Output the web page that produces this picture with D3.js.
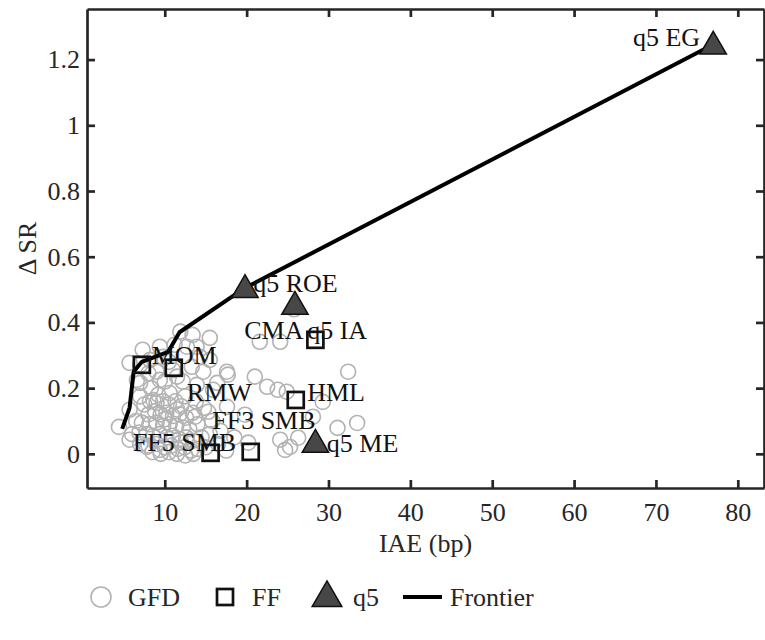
<!DOCTYPE html>
<html>
<head>
<meta charset="utf-8">
<script src="https://cdn.jsdelivr.net/npm/d3@7"></script>
<style>
  body { margin: 0; background: #fff; }
</style>
</head>
<body>
<div id="chart"></div>
<script>
// GFD anomalies: [IAE (bp), delta SR]
const gfdPoints = [
  [11.9,0.372],[13.4,0.362],[15.5,0.353],[11.2,0.332],[12.7,0.326],[13.9,0.326],
  [9.8,0.295],[8.2,0.286],[7.0,0.271],[14.3,0.295],[15.5,0.286],[13.3,0.265],
  [14.7,0.250],[17.6,0.250],[9.4,0.225],[11.5,0.235],[7.0,0.216],[13.9,0.210],
  [16.4,0.216],[21.6,0.341],[24.1,0.341],[25.8,0.440],[32.4,0.250],[21.0,0.235],
  [22.5,0.204],[23.8,0.195],[29.3,0.158],[28.1,0.113],[33.5,0.094],[19.8,0.119],
  [20.2,0.034],[26.3,0.049],[24.7,0.012],[31.1,0.079],[25.3,0.021],[24.1,0.043],
  [24.9,0.189],[17.7,0.241],[15.9,0.195],[15.3,0.128],[17.6,0.143],[13.7,0.113],
  [7.3,0.317],[9.4,0.326],[5.7,0.277],[6.6,0.225],[8.6,0.164],[5.7,0.134],
  [4.4,0.082],[5.7,0.043],[7.8,0.021],[9.4,0.012],
  [7.5,0.15],[8.2,0.16],[9.0,0.155],[9.8,0.16],[10.5,0.15],[11.3,0.16],[12.0,0.145],
  [8.0,0.12],[8.8,0.13],[9.5,0.12],[10.2,0.125],[11.0,0.115],[11.8,0.12],[12.6,0.11],
  [13.4,0.125],[6.5,0.10],[7.2,0.095],[8.1,0.09],[9.0,0.095],[9.8,0.085],[10.6,0.09],
  [11.4,0.085],[12.2,0.08],[13.0,0.075],[14.0,0.09],[6.0,0.06],[6.9,0.065],[7.8,0.06],
  [8.6,0.055],[9.4,0.06],[10.2,0.05],[11.0,0.055],[11.8,0.045],[12.6,0.05],[13.5,0.04],
  [14.5,0.05],[15.5,0.06],[7.0,0.03],[8.0,0.025],[9.0,0.03],[10.0,0.02],[10.8,0.025],
  [11.6,0.015],[12.4,0.02],[13.2,0.01],[14.0,0.015],[15.0,0.02],[16.5,0.03],[17.5,0.01],
  [9.5,0.0],[10.5,0.005],[11.5,0.0],[12.5,-0.005],[13.5,0.0],[8.5,0.005],[12.0,0.035],
  [10.0,0.105],[11.5,0.135],[9.2,0.18],[10.6,0.185],[12.5,0.175],[13.8,0.16],[14.8,0.14],
  [15.8,0.1],[16.8,0.07],[18.5,0.05],[7.0,0.175],[8.3,0.2],[10.0,0.22],[11.0,0.255],
  [12.2,0.22],[9.0,0.25],[10.5,0.28],[8.0,0.245]
];

// Fama-French factors
const ffIAE = [7.2, 11.1, 28.4, 26.0, 20.5, 15.6];
const ffSR = [0.271, 0.262, 0.347, 0.164, 0.006, 0.003];

// q5 factors
const q5IAE = [77.0, 19.8, 25.9, 28.4];
const q5SR = [1.246, 0.505, 0.454, 0.034];

// frontier
const frontierIAE = [4.8, 5.7, 6.2, 7.2, 10.4, 11.8, 19.8, 77.0];
const frontierSR = [0.076, 0.14, 0.25, 0.28, 0.31, 0.37, 0.505, 1.246];

// point labels
const labelText = ["q5 EG", "q5 ROE", "CMA", "q5 IA", "MOM", "RMW", "HML", "FF3 SMB", "FF5 SMB", "q5 ME"];
const labelIAE = [75.4, 20.8, 19.7, 27.4, 8.4, 12.7, 27.4, 15.8, 6.1, 29.8];
const labelSR = [1.270, 0.521, 0.378, 0.378, 0.302, 0.189, 0.189, 0.104, 0.037, 0.034];
const labelAnchor = ["end", "start", "start", "start", "start", "start", "start", "start", "start", "start"];

const xTicks = [10, 20, 30, 40, 50, 60, 70, 80];
const yTicks = [0, 0.2, 0.4, 0.6, 0.8, 1, 1.2];

const legendNames = ["GFD", "FF", "q5", "Frontier"];

const W = 765, H = 640;
const mLeft = 87, mRight = 764, mTop = 9, mBottom = 488;
const axisColor = "#262626";
const fontSize = 26;
const serif = "Liberation Serif";

const svg = d3.select("#chart").append("svg")
  .attr("width", W).attr("height", H);

const x = d3.scaleLinear().domain([0.5, 83.2]).range([mLeft, mRight]);
const y = d3.scaleLinear().domain([-0.104, 1.354]).range([mBottom, mTop]);

// GFD circles
svg.append("g").selectAll("circle")
  .data(gfdPoints).enter().append("circle")
  .attr("cx", d => x(d[0])).attr("cy", d => y(d[1]))
  .attr("r", 7.5)
  .attr("fill", "none")
  .attr("stroke", "#b3b3b3")
  .attr("stroke-width", 1.6);

// frontier
const frontier = frontierIAE.map((v, i) => [v, frontierSR[i]]);
svg.append("path")
  .datum(frontier)
  .attr("d", d3.line().x(d => x(d[0])).y(d => y(d[1])))
  .attr("fill", "none")
  .attr("stroke", "#000")
  .attr("stroke-width", 4)
  .attr("stroke-linejoin", "round");

// FF squares
const sq = 16;
svg.append("g").selectAll("rect")
  .data(ffIAE).enter().append("rect")
  .attr("x", (d) => x(d) - sq / 2)
  .attr("y", (d, i) => y(ffSR[i]) - sq / 2)
  .attr("width", sq).attr("height", sq)
  .attr("fill", "none")
  .attr("stroke", "#111")
  .attr("stroke-width", 2.7);

// q5 triangles
const tri = d3.symbol().type(d3.symbolTriangle).size(300);
svg.append("g").selectAll("path")
  .data(q5IAE).enter().append("path")
  .attr("d", tri)
  .attr("transform", (d, i) => `translate(${x(d)},${y(q5SR[i]) + 2})`)
  .attr("fill", "#474747")
  .attr("stroke", "#111")
  .attr("stroke-width", 1.5);

// labels
svg.append("g").selectAll("text")
  .data(labelText).enter().append("text")
  .attr("x", (d, i) => x(labelIAE[i]))
  .attr("y", (d, i) => y(labelSR[i]))
  .attr("dy", "0.35em")
  .attr("text-anchor", (d, i) => labelAnchor[i])
  .attr("font-family", serif)
  .attr("font-size", fontSize)
  .attr("fill", "#111")
  .text(d => d);

// axes box
const xAxis = svg.append("g").attr("transform", `translate(0,${mBottom})`)
  .call(d3.axisBottom(x).tickValues(xTicks).tickSizeInner(-8).tickSizeOuter(0).tickPadding(15));
const xTop = svg.append("g").attr("transform", `translate(0,${mTop})`)
  .call(d3.axisTop(x).tickValues(xTicks).tickSizeInner(-8).tickSizeOuter(0).tickFormat(""));
const yAxis = svg.append("g").attr("transform", `translate(${mLeft},0)`)
  .call(d3.axisLeft(y).tickValues(yTicks).tickSizeInner(-8).tickSizeOuter(0).tickPadding(7)
    .tickFormat(d => d3.format("")(+d.toFixed(1))));
const yRight = svg.append("g").attr("transform", `translate(${mRight},0)`)
  .call(d3.axisRight(y).tickValues(yTicks).tickSizeInner(-8).tickSizeOuter(0).tickFormat(""));

[xAxis, xTop, yAxis, yRight].forEach(g => {
  g.attr("font-family", serif).attr("font-size", fontSize);
  g.select(".domain").attr("stroke", axisColor).attr("stroke-width", 2.7);
  g.selectAll(".tick line").attr("stroke", axisColor).attr("stroke-width", 2.7);
  g.selectAll(".tick text").attr("fill", axisColor);
});

// axis titles
svg.append("text")
  .attr("x", (mLeft + mRight) / 2).attr("y", 552)
  .attr("text-anchor", "middle")
  .attr("font-family", serif).attr("font-size", fontSize).attr("fill", axisColor)
  .text("IAE (bp)");
svg.append("text")
  .attr("transform", `translate(36,${(mTop + mBottom) / 2}) rotate(-90)`)
  .attr("text-anchor", "middle")
  .attr("font-family", serif).attr("font-size", fontSize).attr("fill", axisColor)
  .text("\u0394 SR");

// legend
const ly = 597;
const lg = svg.append("g");
lg.append("circle").attr("cx", 101).attr("cy", ly).attr("r", 10)
  .attr("fill", "none").attr("stroke", "#b3b3b3").attr("stroke-width", 1.6);
lg.append("rect").attr("x", 217).attr("y", ly - 8).attr("width", 16).attr("height", 16)
  .attr("fill", "none").attr("stroke", "#111").attr("stroke-width", 2.7);
lg.append("path").attr("d", d3.symbol().type(d3.symbolTriangle).size(380))
  .attr("transform", `translate(327,${ly + 1})`)
  .attr("fill", "#474747").attr("stroke", "#111").attr("stroke-width", 1.5);
lg.append("line").attr("x1", 403).attr("x2", 442).attr("y1", ly).attr("y2", ly)
  .attr("stroke", "#000").attr("stroke-width", 4);
const legendX = [128, 252, 353, 450];
lg.selectAll("text").data(legendNames).enter().append("text")
  .attr("x", (d, i) => legendX[i]).attr("y", ly)
  .attr("dy", "0.35em")
  .attr("font-family", serif).attr("font-size", fontSize).attr("fill", axisColor)
  .text(d => d);
</script>
</body>
</html>
